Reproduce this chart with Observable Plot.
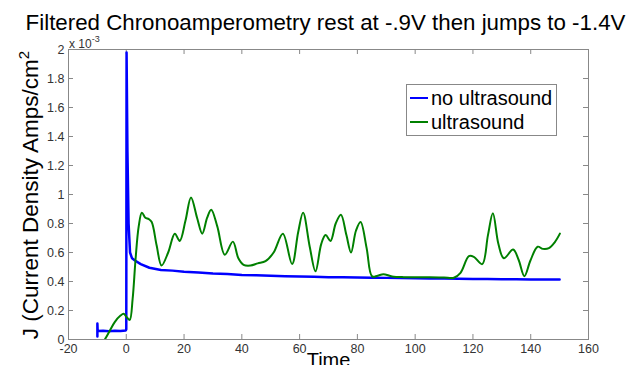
<!DOCTYPE html>
<html>
<head>
<meta charset="utf-8">
<script src="https://cdn.jsdelivr.net/npm/d3@7"></script>
<script src="https://cdn.jsdelivr.net/npm/@observablehq/plot@0.6"></script>
<style>
  html, body { margin: 0; padding: 0; background: #fff; }
  #chart { width: 631px; height: 365px; overflow: hidden; }
</style>
</head>
<body>
<div id="chart"></div>
<script>
const titleText = "Filtered Chronoamperometry rest at -.9V then jumps to -1.4V";
const xLabel = "Time";
const yLabelMain = "J (Current Density Amps/cm";
const yLabelSup = "2";
const seriesNames = ["no ultrasound", "ultrasound"];
const xTicks = [-20, 0, 20, 40, 60, 80, 100, 120, 140, 160];
const yTicks = [0, 0.2, 0.4, 0.6, 0.8, 1, 1.2, 1.4, 1.6, 1.8, 2];

// values in units of 1e-3
const blueT = [-10, -10, -9.9, -8, -6, -4, -2, -0.2, 0, 0.1, 0.4, 0.8, 1.3, 2, 3, 5, 8, 12, 16, 20, 25, 30, 35, 40, 45, 50, 55, 60, 65, 70, 75, 80, 85, 90, 95, 100, 105, 110, 115, 120, 125, 130, 135, 140, 145, 150];
const blueV = [0.02, 0.11, 0.058, 0.06, 0.057, 0.06, 0.058, 0.062, 0.07, 1.98, 1.3, 0.8, 0.6, 0.56, 0.545, 0.52, 0.495, 0.48, 0.475, 0.468, 0.462, 0.455, 0.452, 0.445, 0.443, 0.44, 0.437, 0.435, 0.432, 0.43, 0.43, 0.428, 0.426, 0.425, 0.424, 0.423, 0.421, 0.42, 0.419, 0.418, 0.417, 0.416, 0.415, 0.414, 0.414, 0.414];

const greenT = [-8, -6, -4, -2, -0.9, 0.3, 1.2, 2.2, 3.2, 4.3, 5.4, 6.6, 7.8, 8.8, 10.5, 12.2, 14.5, 16.8, 18.5, 20.5, 22.4, 24.5, 26.3, 28, 29.4, 31.5, 34.1, 36.9, 38.8, 40.6, 43, 45.5, 48.2, 51, 54.2, 57.4, 59.5, 61.2, 63.5, 65.5, 67.5, 69, 70.7, 72.5, 74.3, 76.2, 77.8, 79.5, 81.1, 83.2, 85.1, 87, 89, 92, 96, 100, 105, 110, 113.4, 115.7, 118.6, 120.3, 123.2, 125.2, 126.9, 128.8, 130.7, 133.9, 135.8, 137.8, 139.9, 142.4, 144.2, 146.3, 148.3, 150.1];
const greenV = [-0.02, 0.05, 0.12, 0.165, 0.177, 0.15, 0.135, 0.28, 0.55, 0.78, 0.875, 0.84, 0.83, 0.81, 0.65, 0.51, 0.6, 0.73, 0.68, 0.82, 0.98, 0.84, 0.73, 0.84, 0.895, 0.78, 0.585, 0.675, 0.56, 0.515, 0.51, 0.525, 0.54, 0.6, 0.73, 0.52, 0.74, 0.875, 0.64, 0.47, 0.66, 0.72, 0.68, 0.8, 0.86, 0.72, 0.6, 0.75, 0.81, 0.63, 0.435, 0.44, 0.45, 0.435, 0.43, 0.43, 0.43, 0.428, 0.426, 0.46, 0.575, 0.57, 0.52, 0.72, 0.87, 0.66, 0.56, 0.62, 0.55, 0.437, 0.545, 0.64, 0.625, 0.63, 0.67, 0.73];

const blue = blueT.map((t, i) => ({t, v: blueV[i]}));
const green = greenT.map((t, i) => ({t, v: greenV[i]}));

const FONT = "'Liberation Sans', Arial, sans-serif";
const frameColor = "#888";
const textColor = "#333";

const chart = Plot.plot({
  width: 631,
  height: 365,
  marginLeft: 68,
  marginRight: 43,
  marginTop: 49,
  marginBottom: 26,
  style: {fontFamily: FONT, background: "#fff", overflow: "visible"},
  x: {domain: [-20, 160]},
  y: {domain: [0, 2]},
  marks: [
    Plot.frame({stroke: frameColor}),
    Plot.ruleX(xTicks.slice(1, -1), {x: d => d, y1: 0, y2: 0, insetTop: -5, stroke: frameColor}),
    Plot.ruleX(xTicks.slice(1, -1), {x: d => d, y1: 2, y2: 2, insetBottom: -5, stroke: frameColor}),
    Plot.ruleY(yTicks.slice(1, -1), {y: d => d, x1: -20, x2: -20, insetRight: -5, stroke: frameColor}),
    Plot.ruleY(yTicks.slice(1, -1), {y: d => d, x1: 160, x2: 160, insetLeft: -5, stroke: frameColor}),
    Plot.axisX({ticks: xTicks, tickSize: 0, tickPadding: 5, fontSize: 12.5, fill: textColor, label: null, tickFormat: d => String(d)}),
    Plot.axisY({ticks: yTicks, tickSize: 0, tickPadding: 4, fontSize: 12.5, fill: textColor, label: null, tickFormat: d => String(+d.toFixed(1))}),
    Plot.line(blue, {x: "t", y: "v", stroke: "#0000ff", strokeWidth: 2.5, clip: true}),
    Plot.line(green, {x: "t", y: "v", stroke: "#008000", strokeWidth: 2, curve: "catmull-rom", clip: true}),
    Plot.text([titleText], {frameAnchor: "top", dx: -3, dy: -20, lineAnchor: "bottom", textAnchor: "middle", fontSize: 22.3, fill: "#000"}),
    Plot.text([xLabel], {frameAnchor: "bottom", dy: 27, lineAnchor: "bottom", textAnchor: "middle", fontSize: 20, fill: "#000"})
  ]
});

const svg = d3.select(chart);
// y label with superscript
const yl = svg.append("text")
  .attr("transform", "translate(38,195) rotate(-90)")
  .attr("text-anchor", "middle").attr("font-family", FONT).attr("font-size", 22.5).attr("fill", "#000");
yl.append("tspan").text(yLabelMain);
yl.append("tspan").attr("dy", -9).attr("font-size", 15).text(yLabelSup);

// exponent label
const ex = svg.append("text").attr("x", 69).attr("y", 48).attr("text-anchor", "start").attr("font-family", FONT).attr("font-size", 12).attr("fill", textColor);
ex.append("tspan").text("x 10");
ex.append("tspan").attr("dy", -6).attr("font-size", 9).text("-3");

// legend
const lg = svg.append("g").attr("font-family", FONT).attr("text-anchor", "start");
lg.append("rect").attr("x", 406.5).attr("y", 84.5).attr("width", 150).attr("height", 51).attr("fill", "#fff").attr("stroke", frameColor);
const colors = ["#0000ff", "#008000"];
seriesNames.forEach((name, i) => {
  const cy = 98 + i * 24;
  lg.append("line").attr("x1", 410).attr("x2", 428).attr("y1", cy).attr("y2", cy).attr("stroke", colors[i]).attr("stroke-width", 2);
  lg.append("text").attr("x", 431).attr("y", cy + 7).attr("font-size", 20).attr("fill", "#000").text(name);
});

document.getElementById("chart").appendChild(chart);
</script>
</body>
</html>
